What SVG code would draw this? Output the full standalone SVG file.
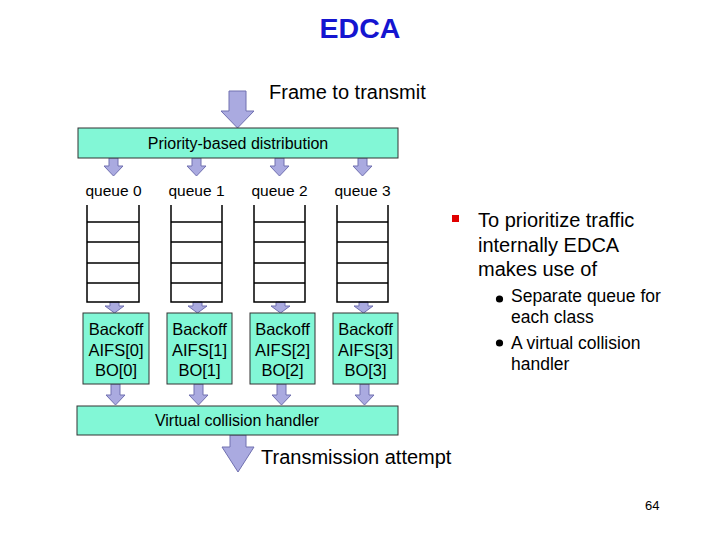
<svg xmlns="http://www.w3.org/2000/svg" width="720" height="540" viewBox="0 0 720 540">
<style>
text{font-family:"Liberation Sans",Arial,sans-serif;fill:#000}
.box{fill:#82F7D6;stroke:#333;stroke-width:1}
.arr{fill:#AAAAE0;stroke:#7070B0;stroke-width:1}
.q{fill:none;stroke:#000;stroke-width:1.5}
.c{text-anchor:middle}
.ql{font-size:15.5px}
.bo{font-size:16.5px}
.big{font-size:20px}
.sub{font-size:17.5px}
</style>
<rect width="720" height="540" fill="#fff"/>
<text x="360" y="38" class="c" style="font-size:28.5px;font-weight:bold;fill:#1515D0">EDCA</text>
<text x="269" y="99" class="big">Frame to transmit</text>

<g id="connectors">
<polygon class="arr" points="229,91 246,91 246,111 254,111 237.5,128 221,111 229,111"/>
<polygon class="arr" points="109,158 118,158 118,166 123,166 113.5,176 104,166 109,166"/>
<polygon class="arr" points="192,158 201,158 201,166 206,166 196.5,176 187,166 192,166"/>
<polygon class="arr" points="275,158 284,158 284,166 289,166 279.5,176 270,166 275,166"/>
<polygon class="arr" points="358,158 367,158 367,166 372,166 362.5,176 353,166 358,166"/>
<polygon class="arr" points="110,302 119,302 119,306 124,306 114.5,313 105,306 110,306"/>
<polygon class="arr" points="193,302 202,302 202,306 207,306 197.5,313 188,306 193,306"/>
<polygon class="arr" points="276,302 285,302 285,306 290,306 280.5,313 271,306 276,306"/>
<polygon class="arr" points="359,302 368,302 368,306 373,306 363.5,313 354,306 359,306"/>
<polygon class="arr" points="111,384 120,384 120,395 125,395 115.5,405 106,395 111,395"/>
<polygon class="arr" points="194,384 203,384 203,395 208,395 198.5,405 189,395 194,395"/>
<polygon class="arr" points="277,384 286,384 286,395 291,395 281.5,405 272,395 277,395"/>
<polygon class="arr" points="360,384 369,384 369,395 374,395 364.5,405 355,395 360,395"/>
<polygon class="arr" points="230,435 246,435 246,447 254,447 238,472 222,447 230,447"/>
</g>

<g id="priority">
<rect class="box" x="78" y="128" width="320" height="30"/>
<text x="238" y="149" class="c" style="font-size:16px">Priority-based distribution</text>
</g>

<g id="queue0">
<text x="113.5" y="196" class="c ql">queue 0</text>
<path class="q" d="M87,205V302H139V205M87,222H139M87,242H139M87,263H139M87,283H139"/>
</g>
<g id="queue1">
<text x="196.5" y="196" class="c ql">queue 1</text>
<path class="q" d="M171,205V302H222V205M171,222H222M171,242H222M171,263H222M171,283H222"/>
</g>
<g id="queue2">
<text x="279.5" y="196" class="c ql">queue 2</text>
<path class="q" d="M254,205V302H305V205M254,222H305M254,242H305M254,263H305M254,283H305"/>
</g>
<g id="queue3">
<text x="362.5" y="196" class="c ql">queue 3</text>
<path class="q" d="M337,205V302H388V205M337,222H388M337,242H388M337,263H388M337,283H388"/>
</g>

<g id="backoff0">
<rect class="box" x="83" y="313" width="66" height="71"/>
<text x="116" y="335" class="c bo">Backoff</text>
<text x="116" y="356" class="c bo">AIFS[0]</text>
<text x="116" y="376" class="c bo">BO[0]</text>
</g>
<g id="backoff1">
<rect class="box" x="167" y="313" width="65" height="71"/>
<text x="199.5" y="335" class="c bo">Backoff</text>
<text x="199.5" y="356" class="c bo">AIFS[1]</text>
<text x="199.5" y="376" class="c bo">BO[1]</text>
</g>
<g id="backoff2">
<rect class="box" x="250" y="313" width="65" height="71"/>
<text x="282.5" y="335" class="c bo">Backoff</text>
<text x="282.5" y="356" class="c bo">AIFS[2]</text>
<text x="282.5" y="376" class="c bo">BO[2]</text>
</g>
<g id="backoff3">
<rect class="box" x="333" y="313" width="65" height="71"/>
<text x="365.5" y="335" class="c bo">Backoff</text>
<text x="365.5" y="356" class="c bo">AIFS[3]</text>
<text x="365.5" y="376" class="c bo">BO[3]</text>
</g>

<g id="vch">
<rect class="box" x="77" y="406" width="321" height="29"/>
<text x="237" y="426" class="c" style="font-size:16px">Virtual collision handler</text>
</g>

<text x="261" y="464" class="big">Transmission attempt</text>

<g id="notes">
<rect x="452" y="215" width="7" height="7" fill="#E00000"/>
<text x="478" y="227" class="big">To prioritize traffic</text>
<text x="478" y="252" class="big">internally EDCA</text>
<text x="478" y="276" class="big">makes use of</text>
<circle cx="499.5" cy="299" r="3.6" fill="#000"/>
<text x="511" y="302" class="sub">Separate queue for</text>
<text x="511" y="323" class="sub">each class</text>
<circle cx="499.5" cy="343" r="3.6" fill="#000"/>
<text x="511" y="349" class="sub">A virtual collision</text>
<text x="511" y="370" class="sub">handler</text>
</g>

<text x="645" y="510" style="font-size:13px">64</text>
</svg>
